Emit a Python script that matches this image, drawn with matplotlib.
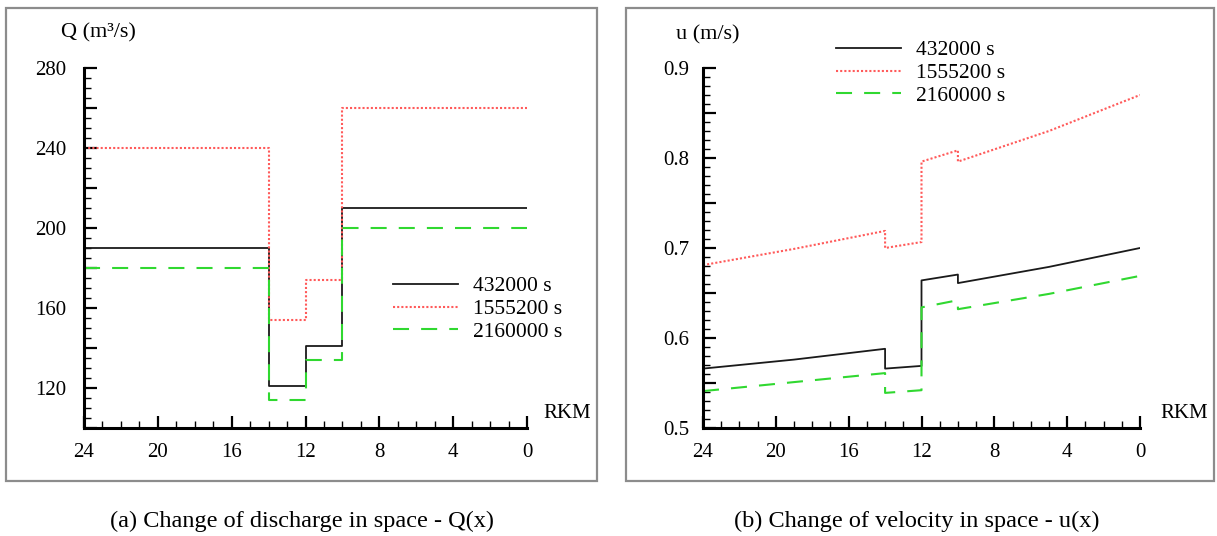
import matplotlib
matplotlib.use('Agg')
import numpy as np
import matplotlib.pyplot as plt
from matplotlib.ticker import MultipleLocator, FuncFormatter
from matplotlib.patches import Rectangle

# ---------------- data ----------------
series_labels = ['432000 s', '1555200 s', '2160000 s']

# discharge Q(x): piecewise constant between these RKM edges
q_edges = [24, 14, 12, 10, 0]
q_432000 = [190, 121, 141, 210]
q_1555200 = [240, 154, 174, 260]
q_2160000 = [180, 114, 134, 200]

# velocity u(x)
u_x = [24, 19, 14, 14, 12, 12, 10, 10, 5, 0]
u_432000 = [0.566, 0.576, 0.588, 0.566, 0.569, 0.664, 0.6705, 0.661, 0.679, 0.700]
u_1555200 = [0.681, 0.699, 0.719, 0.700, 0.7066, 0.796, 0.8085, 0.796, 0.830, 0.870]
u_2160000 = [0.541, 0.551, 0.561, 0.539, 0.542, 0.634, 0.642, 0.632, 0.649, 0.669]

captions = ['(a) Change of discharge in space - Q(x)',
            '(b) Change of velocity in space - u(x)']

# ---------------- style ----------------
plt.rcParams['font.family'] = ['Liberation Serif', 'DejaVu Serif']
W, H = 1217, 536
fig = plt.figure(figsize=(W / 100, H / 100), dpi=100)


def fx(px):
    return px / W


def fy(py):
    return 1 - py / H


styles = [dict(color='#1a1a1a', lw=1.3, ls='-'),
          dict(color='#ff5a5a', lw=1.5, ls=(0, (1, 1))),
          dict(color='#30d830', lw=1.5, ls=(0, (7.7, 5.8)))]

FS = 15

# frames
for (x0, x1) in [(6, 597), (626, 1214)]:
    fig.patches.append(Rectangle((fx(x0), fy(481)), fx(x1) - fx(x0), fy(8) - fy(481),
                                 transform=fig.transFigure, fill=False,
                                 ec='#8c8c8c', lw=1.6, zorder=0))

axL = fig.add_axes([fx(84), fy(428), fx(527) - fx(84), fy(68) - fy(428)])
axR = fig.add_axes([fx(703), fy(428), fx(1140) - fx(703), fy(68) - fy(428)])


def step_xy(edges, vals):
    xs, ys = [], []
    for i, v in enumerate(vals):
        xs += [edges[i], edges[i + 1]]
        ys += [v, v]
    return xs, ys


for vals, lab, st in zip([q_432000, q_1555200, q_2160000], series_labels, styles):
    xs, ys = step_xy(q_edges, vals)
    axL.plot(xs, ys, label=lab, **st)

for vals, lab, st in zip([u_432000, u_1555200, u_2160000], series_labels, styles):
    axR.plot(u_x, vals, label=lab, **st)

for ax in (axL, axR):
    ax.set_xlim(24, 0)
    for s in ('top', 'right'):
        ax.spines[s].set_visible(False)
    for s in ('left', 'bottom'):
        ax.spines[s].set_linewidth(2.2)
    ax.xaxis.set_major_locator(MultipleLocator(4))
    ax.xaxis.set_minor_locator(MultipleLocator(1))
    ax.tick_params(which='both', direction='in', labelsize=FS, colors='black')
    ax.tick_params(which='major', length=9, width=1.6)
    ax.tick_params(which='minor', length=5, width=1.0)
    ax.tick_params(axis='x', pad=10.5)
    ax.xaxis.set_major_formatter(FuncFormatter(lambda v, p: '%d' % round(v)))

axL.set_ylim(100, 280)
axL.yaxis.set_major_locator(MultipleLocator(20))
axL.yaxis.set_minor_locator(MultipleLocator(5))
axL.yaxis.set_major_formatter(FuncFormatter(
    lambda v, p: ('%d' % round(v)) if round(v) % 40 == 0 and round(v) >= 120 else ''))
axL.tick_params(axis='y', pad=13)

axR.set_ylim(0.5, 0.9)
axR.yaxis.set_major_locator(MultipleLocator(0.05))
axR.yaxis.set_minor_locator(MultipleLocator(0.01))
axR.yaxis.set_major_formatter(FuncFormatter(
    lambda v, p: ('%.1f' % v) if abs(round(v * 10) - v * 10) < 1e-6 else ''))
axR.tick_params(axis='y', pad=10)

# axis titles
fig.text(fx(61), fy(33), 'Q (m\u00b3/s)', fontsize=16, ha='left', va='center')
fig.text(fx(676), fy(35), 'u (m/s)', fontsize=16, ha='left', va='center')
fig.text(fx(543), fy(413), 'RKM', fontsize=FS, ha='left', va='center')
fig.text(fx(1160), fy(413), 'RKM', fontsize=FS, ha='left', va='center')

# legends
legkw = dict(loc='center left', bbox_transform=fig.transFigure, frameon=False,
             fontsize=15.5, handlelength=3.0, handletextpad=0.7,
             labelspacing=0.12, borderpad=0, borderaxespad=0)
axL.legend(bbox_to_anchor=(fx(393), fy(309)), **legkw)
axR.legend(bbox_to_anchor=(fx(836), fy(73)), **legkw)

# captions
fig.text(fx(302), fy(521), captions[0], fontsize=17.5, ha='center', va='center')
fig.text(fx(917), fy(521), captions[1], fontsize=17.5, ha='center', va='center')

fig.savefig('out.png', dpi=100)
